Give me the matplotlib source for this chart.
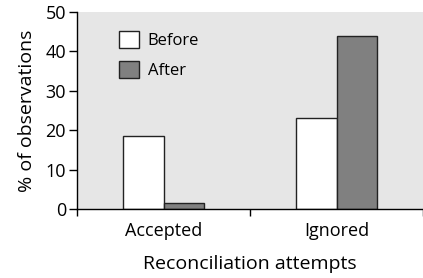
import matplotlib
matplotlib.use("Agg")
import matplotlib.pyplot as plt
import numpy as np
from matplotlib.patches import Patch

categories = ["Accepted", "Ignored"]
before = [18.5, 23.0]
after = [1.5, 44.0]
series_names = ["Before", "After"]
yticks = [0, 10, 20, 30, 40, 50]

plt.rcParams['font.family'] = ['Open Sans', 'DejaVu Sans']

W, H = 423, 278
fig = plt.figure(figsize=(W/100, H/100), dpi=100)
left, right, top, bottom = 77, 423, 12, 209
ax = fig.add_axes([left/W, 1-bottom/H, (right-left)/W, (bottom-top)/H])
ax.set_facecolor("#e6e6e6")

x = np.arange(len(categories))
w = 0.236
ax.bar(x - w/2, before, width=w, color="white", edgecolor="#222222", linewidth=1.0, label=series_names[0])
ax.bar(x + w/2, after, width=w, color="#808080", edgecolor="#222222", linewidth=1.0, label=series_names[1])

ax.set_xlim(-0.5, -0.5 + (right-left)/176)
ax.set_ylim(0, 50)
ax.set_yticks(yticks)
ax.set_xticks(x)
ax.set_xticklabels(categories)
ax.set_xticks([-0.5, 0.5, 1.5], minor=True)
ax.tick_params(axis='x', which='major', length=0, labelsize=13, pad=9)
ax.tick_params(axis='x', which='minor', length=5, width=1, direction='out')
ax.tick_params(axis='y', length=6, width=1, direction='out', labelsize=13, pad=2)
for s in ["top", "right"]:
    ax.spines[s].set_visible(False)
ax.spines["left"].set_linewidth(1)
ax.spines["bottom"].set_linewidth(1)

ax.set_ylabel("% of observations", fontsize=14, labelpad=7)
ax.set_xlabel("Reconciliation attempts", fontsize=14, labelpad=11)

handles = [Patch(facecolor="white", edgecolor="#222222", label=series_names[0]),
           Patch(facecolor="#808080", edgecolor="#222222", label=series_names[1])]
leg = ax.legend(handles=handles, loc="upper left", bbox_to_anchor=(0.12, 0.905),
                frameon=False, fontsize=12, handlelength=1.2, handleheight=1.25,
                labelspacing=0.7, handletextpad=0.55, borderaxespad=0, borderpad=0)

fig.savefig("out.png", dpi=100)
